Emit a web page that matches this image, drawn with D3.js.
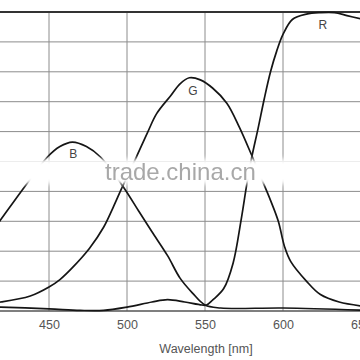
<!DOCTYPE html>
<html>
<head>
<meta charset="utf-8">
<script src="https://cdn.jsdelivr.net/npm/d3@7"></script>
<style>
  html, body { margin: 0; padding: 0; background: #fff; }
  svg { display: block; }
</style>
</head>
<body>
<svg id="chart" width="360" height="360"></svg>
<script>
// ---- data ----
const xGridValues = [400, 450, 500, 550, 600, 650];
const xTickValues = [450, 500, 550, 600, 650];
const yGridValues = [0, 10, 20, 30, 40, 50, 60, 70, 80, 90, 100];
const xTitle = "Wavelength [nm]";
const watermarkText = "trade.china.cn";

const blueNm  = [410, 419, 435, 449, 457, 465, 474, 483, 497, 508, 516, 526, 534, 542, 550, 560, 600, 650];
const blueVal = [24, 30.5, 42, 51.5, 55, 56.5, 55, 51.5, 42, 33, 26.5, 18.5, 11, 6, 2, 1, 1, 0.3];

const greenNm  = [400, 419, 438, 450, 457, 465, 476, 485, 491, 497, 506, 513, 519, 528, 534, 540, 547, 555, 564, 572, 580, 586, 592, 597, 601, 605, 615, 624, 636, 650];
const greenVal = [2, 3, 5, 8, 10.5, 14.5, 21, 28, 34.5, 41.5, 51.5, 59.5, 66, 72, 76, 78, 77.3, 74.5, 69.5, 61.5, 52, 44.5, 37, 30, 21.5, 16.5, 10, 5.5, 3, 1.7];

const redNm  = [400, 419, 450, 470, 485, 500, 516, 526, 537, 548, 551, 555, 562, 568, 573, 577, 580, 584, 588, 592, 596, 600, 606, 615, 624, 633, 641, 650];
const redVal = [1.5, 1.3, 0.7, 0.2, 0.2, 1.3, 3, 3.8, 3, 2, 2, 3.7, 7.5, 16, 30, 43, 51.5, 61, 71, 80, 87, 92.5, 97.5, 99.3, 99.8, 99.8, 98.8, 97.7];

const seriesNames = ["B", "G", "R"];
const seriesLabelAt = [[465.6, 51.3], [542.3, 72.1], [625.6, 94.2]]; // [nm, value] baseline anchor for curve labels

// ---- drawing ----
const svg = d3.select("#chart");
const x = d3.scaleLinear().domain([400, 650]).range([-29, 361]);
const y = d3.scaleLinear().domain([0, 100]).range([311, 12]);

const font = "'Liberation Sans', Arial, Helvetica, sans-serif";

const defs = svg.append("defs");
defs.append("filter").attr("id", "soft")
  .attr("x", "-10%").attr("y", "-60%").attr("width", "120%").attr("height", "220%")
  .append("feGaussianBlur").attr("stdDeviation", "0.5 2.5");

// horizontal grid
svg.append("g").selectAll("line").data(yGridValues.filter(v => v > 0 && v < 100)).join("line")
  .attr("x1", 0).attr("x2", 360)
  .attr("y1", d => y(d)).attr("y2", d => y(d))
  .attr("stroke", "#8c8c8c").attr("stroke-width", 1);

// vertical grid
svg.append("g").selectAll("line").data(xGridValues).join("line")
  .attr("x1", d => x(d)).attr("x2", d => x(d))
  .attr("y1", y(100)).attr("y2", y(0))
  .attr("stroke", "#8c8c8c").attr("stroke-width", 1);

// top frame
svg.append("line").attr("x1", 0).attr("x2", 360).attr("y1", y(100)).attr("y2", y(100))
  .attr("stroke", "#333").attr("stroke-width", 1.8);
// bottom axis line
svg.append("line").attr("x1", 0).attr("x2", 360).attr("y1", y(0)).attr("y2", y(0))
  .attr("stroke", "#555").attr("stroke-width", 1.3);

// x axis labels
const xAxis = d3.axisBottom(x).tickValues(xTickValues).tickSize(0).tickPadding(9).tickFormat(d3.format("d"));
const gx = svg.append("g").attr("transform", `translate(0,${y(0)})`).call(xAxis);
gx.select(".domain").remove();
gx.selectAll("text").attr("fill", "#555").style("font-family", font).style("font-size", "12.5px");

svg.append("text").attr("x", 206).attr("y", 352.5).attr("text-anchor", "middle")
  .attr("fill", "#555").style("font-family", font).style("font-size", "12.5px").text(xTitle);

// curves
const lineGen = d3.line().x(d => x(d[0])).y(d => y(d[1])).curve(d3.curveCatmullRom.alpha(0.5));
const seriesData = [
  d3.zip(blueNm, blueVal),
  d3.zip(greenNm, greenVal),
  d3.zip(redNm, redVal)
];
svg.append("g").selectAll("path").data(seriesData).join("path")
  .attr("d", lineGen).attr("fill", "none")
  .attr("stroke", "#151515").attr("stroke-width", 1.7).attr("stroke-linejoin", "round");

// watermark band (white, soft edges) + text
svg.append("rect").attr("x", -10).attr("y", 159).attr("width", 380).attr("height", 25)
  .attr("fill", "#fff").attr("filter", "url(#soft)");
svg.append("text").attr("x", 105).attr("y", 180).attr("fill", "#9a9a9a").attr("opacity", 0.85)
  .style("font-family", font).style("font-size", "24px").text(watermarkText);

// curve labels
svg.append("g").selectAll("text").data(seriesNames).join("text")
  .attr("x", (d, i) => x(seriesLabelAt[i][0]))
  .attr("y", (d, i) => y(seriesLabelAt[i][1]))
  .attr("text-anchor", "middle")
  .attr("fill", "#444").style("font-family", font).style("font-size", "12px")
  .text(d => d);
</script>
</body>
</html>
